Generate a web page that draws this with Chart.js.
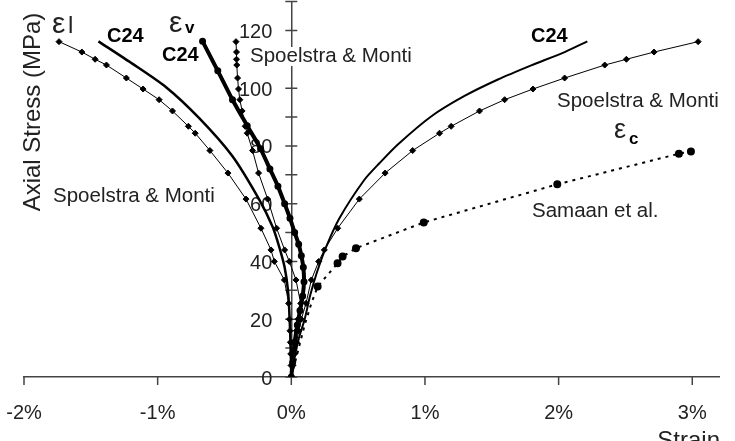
<!DOCTYPE html>
<html>
<head>
<meta charset="utf-8">
<script src="https://cdn.jsdelivr.net/npm/chart.js@4.4.1/dist/chart.umd.min.js"></script>
<style>
  html, body { margin: 0; padding: 0; background: #fff; }
  #wrap { width: 735px; height: 441px; }
</style>
</head>
<body>
<div id="wrap"><canvas id="chart"></canvas></div>
<script>
// Spoelstra & Monti model: one set of stress levels (MPa), strains in %
const spStress  = [0, 4, 8, 12, 16, 20, 25.5, 33.6, 40, 44, 51.5, 61.6, 70.6, 78.4, 84.4, 86.8, 92.1, 96, 99.7, 103.5, 108, 110, 112.5, 116.1];
const spLateral = [0, -0.002, -0.004, -0.007, -0.01, -0.014, -0.02, -0.052, -0.127, -0.152, -0.227, -0.339, -0.474, -0.609, -0.719, -0.77, -0.889, -0.989, -1.109, -1.234, -1.383, -1.468, -1.567, -1.738];
const spAxial   = [0, 0.012, 0.025, 0.04, 0.055, 0.075, 0.11, 0.15, 0.205, 0.247, 0.347, 0.509, 0.702, 0.908, 1.109, 1.196, 1.408, 1.596, 1.808, 2.045, 2.345, 2.507, 2.714, 3.044];
const spVolume  = [0, 0.008, 0.017, 0.028, 0.038, 0.05, 0.07, 0.035, -0.015, -0.05, -0.11, -0.177, -0.245, -0.29, -0.33, -0.345, -0.368, -0.385, -0.395, -0.402, -0.408, -0.41, -0.41, -0.414];

// C24 test results
const c24LatStrain = [0, -0.005, -0.012, -0.025, -0.05, -0.09, -0.14, -0.24, -0.44, -0.689, -0.939, -1.19, -1.443];
const c24LatStress = [0, 10, 20, 30, 38, 45, 52, 61.4, 76.4, 89.6, 100.4, 108.5, 116.2];
const c24AxStrain  = [0, 0.03, 0.06, 0.1, 0.14, 0.19, 0.26, 0.36, 0.547, 0.659, 0.797, 1.046, 1.296, 1.546, 1.795, 2.045, 2.215];
const c24AxStress  = [0, 8, 14, 20, 28, 36, 45, 55, 68.3, 74, 80.5, 90.2, 97.3, 103, 107.9, 112.5, 116.2];
const c24VolStrain = [0, 0.01, 0.025, 0.045, 0.065, 0.085, 0.095, 0.09, 0.075, 0.055, 0.025, -0.01, -0.05, -0.1, -0.16, -0.23, -0.33, -0.44, -0.55, -0.664];
const c24VolStress = [0, 5, 12, 18, 23, 28, 33, 38, 42, 46, 50, 55, 60, 66, 72, 79, 87, 96, 106, 116.2];

// Samaan et al. model (axial strain)
const samStrain = [0, 0.05, 0.1, 0.15, 0.197, 0.346, 0.384, 0.484, 0.991, 1.99, 2.9, 2.99];
const samStress = [0, 9, 18, 25.5, 31.3, 39.4, 41.7, 44.6, 53.5, 66.7, 77.3, 78.1];

// axis ticks
const xTickStep = 0.2;
const yTickStep = 10;
const yLabelStep = 20;

const FONT = '"Liberation Sans", Arial, sans-serif';
const INK = '#222';
const AXIS = '#444';

const pts = (xs, ys) => xs.map((x, i) => ({ x: x, y: ys[i] }));

const spStyle = {
    borderColor: '#000', backgroundColor: '#000', borderWidth: 1,
    pointStyle: 'rectRot', pointRadius: 3, pointHoverRadius: 3
};

// text on the plot (pixel positions)
const notes = [
    { t: 'ε', x: 52, y: 33, size: 30 },
    { t: 'l', x: 68, y: 33, size: 24 },
    { t: 'ε', x: 169, y: 32, size: 30 },
    { t: 'v', x: 185, y: 33, size: 17, bold: true },
    { t: 'ε', x: 614, y: 138, size: 27 },
    { t: 'c', x: 629, y: 144, size: 17, bold: true },
    { t: 'C24', x: 107, y: 42, size: 20, bold: true },
    { t: 'C24', x: 162, y: 61, size: 20, bold: true },
    { t: 'C24', x: 531, y: 42, size: 20, bold: true },
    { t: 'Spoelstra & Monti', x: 250, y: 62, size: 20.5, bg: true },
    { t: 'Spoelstra & Monti', x: 53, y: 202, size: 20.5 },
    { t: 'Spoelstra & Monti', x: 557, y: 107, size: 20.5 },
    { t: 'Samaan et al.', x: 532, y: 217, size: 20.5 }
];

// tick marks crossing the y axis, hanging below the x axis, and the y labels
const axisTicks = {
    id: 'axisTicks',
    beforeDatasetsDraw(chart) {
        const { ctx, scales: { x, y } } = chart;
        const x0 = x.getPixelForValue(0);
        const yb = y.getPixelForValue(0);
        ctx.save();
        ctx.strokeStyle = AXIS;
        ctx.lineWidth = 1.5;
        ctx.beginPath();
        y.ticks.forEach(t => {
            const py = y.getPixelForValue(t.value);
            ctx.moveTo(x0 - 6, py);
            ctx.lineTo(x0 + 6, py);
        });
        x.ticks.forEach(t => {
            const px = x.getPixelForValue(t.value);
            const major = Math.abs(t.value - Math.round(t.value)) < 1e-6;
            ctx.moveTo(px, yb);
            ctx.lineTo(px, yb + (major ? 8 : 6));
        });
        ctx.stroke();

        ctx.fillStyle = INK;
        ctx.font = '20px ' + FONT;
        ctx.textAlign = 'right';
        ctx.textBaseline = 'middle';
        y.ticks.forEach(t => {
            if (t.value % yLabelStep === 0 && t.value < y.max) {
                ctx.fillText(String(t.value), x0 - 19, y.getPixelForValue(t.value) + 2);
            }
        });
        ctx.restore();
    }
};

const textLayer = {
    id: 'textLayer',
    afterDatasetsDraw(chart) {
        const ctx = chart.ctx;
        ctx.save();
        ctx.textAlign = 'left';
        ctx.textBaseline = 'alphabetic';
        notes.forEach(n => {
            ctx.font = (n.bold ? 'bold ' : '') + n.size + 'px ' + FONT;
            if (n.bg) {
                const w = ctx.measureText(n.t).width;
                ctx.fillStyle = '#fff';
                ctx.fillRect(n.x - 1, n.y - 15, w + 2, 19);
            }
            ctx.fillStyle = n.bold ? '#000' : INK;
            ctx.fillText(n.t, n.x, n.y);
        });

        // axis titles
        ctx.fillStyle = INK;
        ctx.font = '24px ' + FONT;
        ctx.textAlign = 'right';
        ctx.fillText('Strain', 720, 448);
        ctx.translate(40, 112);
        ctx.rotate(-Math.PI / 2);
        ctx.textAlign = 'center';
        ctx.fillText('Axial Stress (MPa)', 0, 0);
        ctx.restore();
    }
};

new Chart(document.getElementById('chart'), {
    type: 'line',
    data: {
        datasets: [
            Object.assign({ label: 'Spoelstra lateral', data: pts(spLateral, spStress) }, spStyle),
            Object.assign({ label: 'Spoelstra axial', data: pts(spAxial, spStress) }, spStyle),
            Object.assign({ label: 'Spoelstra volumetric', data: pts(spVolume, spStress) }, spStyle),
            {
                label: 'C24 lateral', data: pts(c24LatStrain, c24LatStress),
                borderColor: '#000', borderWidth: 2.5, pointRadius: 0, tension: 0.25
            },
            {
                label: 'C24 axial', data: pts(c24AxStrain, c24AxStress),
                borderColor: '#000', borderWidth: 2, pointRadius: 0, tension: 0.25
            },
            {
                label: 'C24 volumetric', data: pts(c24VolStrain, c24VolStress),
                borderColor: '#000', backgroundColor: '#000', borderWidth: 4,
                pointRadius: 1.5, tension: 0.3
            },
            {
                label: 'Samaan et al.', data: pts(samStrain, samStress),
                borderColor: '#000', backgroundColor: '#000', borderWidth: 2,
                borderDash: [3, 5], pointRadius: c => (c.dataIndex < 4 ? 0 : 3)
            }
        ]
    },
    options: {
        responsive: true,
        maintainAspectRatio: false,
        animation: false,
        events: [],
        layout: { autoPadding: false, padding: { left: 24, right: 16, top: 1.5, bottom: 0 } },
        plugins: { legend: { display: false }, tooltip: { enabled: false } },
        scales: {
            x: {
                type: 'linear',
                min: -2, max: 3.2,
                border: { color: AXIS, width: 1.5 },
                grid: { display: false, drawTicks: true, tickLength: 8 },
                ticks: {
                    stepSize: xTickStep, autoSkip: false, maxRotation: 0, padding: 16,
                    color: INK, font: { family: FONT, size: 20 },
                    callback: v => (Math.abs(v - Math.round(v)) < 1e-6 ? Math.round(v) + '%' : null)
                },
                afterFit: s => { s.paddingLeft = 0; s.paddingRight = 0; }
            },
            y: {
                type: 'linear',
                position: { x: 0 },
                min: 0, max: 130,
                border: { color: AXIS, width: 1.5 },
                grid: { display: false, drawTicks: false },
                ticks: { stepSize: yTickStep, autoSkip: false, display: false },
                afterFit: s => { s.paddingTop = 0; s.paddingBottom = 0; }
            }
        }
    },
    plugins: [axisTicks, textLayer]
});
</script>
</body>
</html>
